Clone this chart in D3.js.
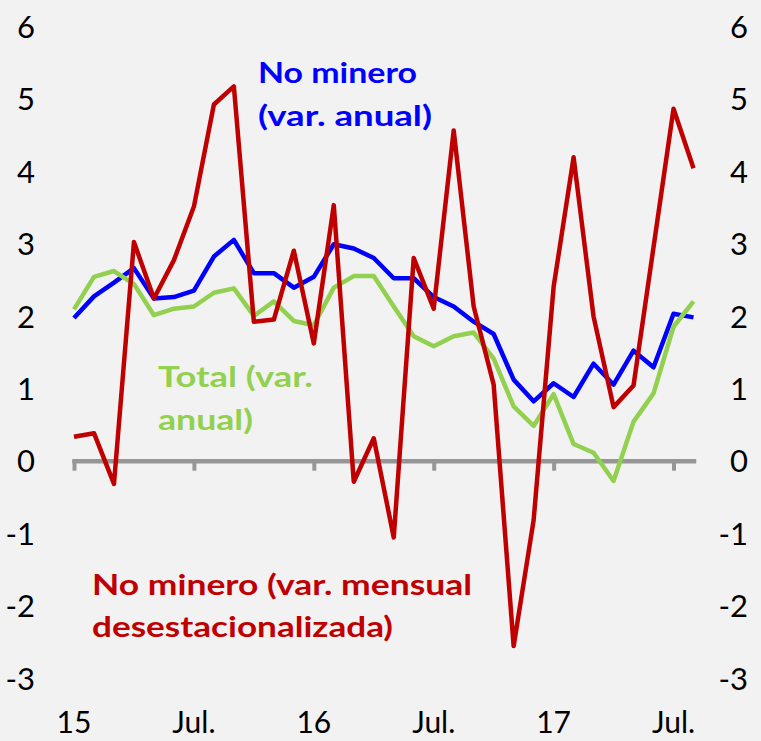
<!DOCTYPE html>
<html><head><meta charset="utf-8">
<script src="https://cdn.jsdelivr.net/npm/d3@7"></script>
<style>
html,body{margin:0;padding:0;background:#f2f2f2;}
svg{display:block;}
text{font-family:Lato,"Open Sans",sans-serif;}
</style>
</head><body>
<svg id="chart" width="761" height="741"></svg>
<script>
const months = ["2015-01","2015-02","2015-03","2015-04","2015-05","2015-06","2015-07","2015-08","2015-09","2015-10","2015-11","2015-12",
"2016-01","2016-02","2016-03","2016-04","2016-05","2016-06","2016-07","2016-08","2016-09","2016-10","2016-11","2016-12",
"2017-01","2017-02","2017-03","2017-04","2017-05","2017-06","2017-07","2017-08"];
const noMineroAnual = [1.97,2.27,2.46,2.66,2.24,2.26,2.35,2.82,3.05,2.59,2.59,2.39,2.54,2.99,2.93,2.80,2.52,2.52,2.26,2.13,1.92,1.75,1.12,0.82,1.07,0.88,1.34,1.05,1.52,1.29,2.03,1.98];
const totalAnual = [2.09,2.54,2.62,2.44,2.01,2.10,2.13,2.32,2.38,2.00,2.20,1.93,1.87,2.39,2.55,2.55,2.13,1.72,1.58,1.72,1.77,1.41,0.75,0.48,0.92,0.23,0.11,-0.28,0.54,0.93,1.85,2.20];
const noMineroMensual = [0.33,0.38,-0.32,3.02,2.24,2.77,3.51,4.92,5.17,1.92,1.95,2.90,1.62,3.53,-0.29,0.31,-1.06,2.80,2.10,4.56,2.13,1.05,-2.56,-0.82,2.40,4.19,1.99,0.74,1.04,2.95,4.86,4.04];
const yTicks = [-3,-2,-1,0,1,2,3,4,5,6];
const xTickMonths = ["2015-01","2015-07","2016-01","2016-07","2017-01","2017-07"];
const xTickLabels = ["15","Jul.","16","Jul.","17","Jul."];

const svg = d3.select("#chart");
const x = d3.scalePoint().domain(months).range([74, 693.5]);
const y = d3.scaleLinear().domain([-3, 6]).range([677.9, 26.3]);

// zero axis with ticks
const xAxis = d3.axisBottom(x).tickValues(xTickMonths).tickSize(10).tickSizeOuter(0).tickFormat("");
const gx = svg.append("g").attr("transform", `translate(0,${y(0)})`).call(xAxis);
gx.select(".domain").attr("stroke", "#969696").attr("stroke-width", 4.5).attr("stroke-linecap", "square");
gx.selectAll(".tick line").attr("stroke", "#969696").attr("stroke-width", 4);

// x labels at bottom
svg.append("g").selectAll("text").data(xTickMonths).join("text")
  .attr("x", d => x(d)).attr("y", 733)
  .attr("text-anchor", "middle").attr("font-size", 30).attr("fill", "#000")
  .text((d, i) => xTickLabels[i]);

// y axes (left and right)
function yAxisAt(px) {
  const ax = d3.axisLeft(y).tickValues(yTicks).tickSize(0).tickPadding(0).tickFormat(d => String(d));
  const g = svg.append("g").attr("transform", `translate(${px},0)`).call(ax);
  g.select(".domain").remove();
  g.selectAll(".tick text").attr("font-size", 31).attr("font-family", "Lato, sans-serif").attr("fill", "#000").attr("dy", "0.36em");
}
yAxisAt(35);
yAxisAt(748);

const line = d3.line().x((d, i) => x(months[i])).y(d => y(d));
const series = [
  {data: noMineroAnual, color: "#0000ff"},
  {data: totalAnual, color: "#92d050"},
  {data: noMineroMensual, color: "#c00000"}
];
svg.append("g").selectAll("path").data(series).join("path")
  .attr("d", d => line(d.data))
  .attr("fill", "none").attr("stroke", d => d.color)
  .attr("stroke-width", 4.5).attr("stroke-linejoin", "round");

// annotations
const notes = [
  {lines: ["No minero", "(var. anual)"], x: 258, y: [83, 126], w: [159, 174], color: "#0000ff"},
  {lines: ["Total (var.", "anual)"], x: 158, y: [387, 430], w: [155, 95], color: "#92d050"},
  {lines: ["No minero (var. mensual", "desestacionalizada)"], x: 92, y: [595, 637], w: [380, 301], color: "#c00000"}
];
notes.forEach(n => {
  n.lines.forEach((t, i) => {
    svg.append("text").attr("x", n.x).attr("y", n.y[i])
      .attr("font-size", 29).attr("font-weight", "bold").attr("fill", n.color)
      .attr("textLength", n.w[i]).attr("lengthAdjust", "spacingAndGlyphs")
      .text(t);
  });
});
</script>
</body></html>
